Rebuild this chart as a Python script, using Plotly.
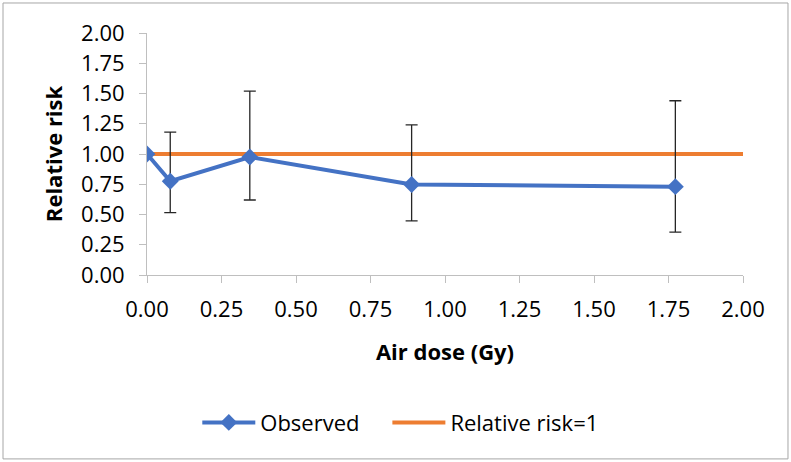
import plotly.graph_objects as go

dose = [0.0, 0.078, 0.345, 0.888, 1.773]
observed = [1.0, 0.775, 0.975, 0.748, 0.73]
ci_upper = [None, 1.18, 1.52, 1.24, 1.44]
ci_lower = [None, 0.515, 0.62, 0.447, 0.355]
ref_x = [0.0, 2.0]
ref_y = [1.0, 1.0]
x_ticks = [0, 0.25, 0.5, 0.75, 1.0, 1.25, 1.5, 1.75, 2.0]
y_ticks = [0, 0.25, 0.5, 0.75, 1.0, 1.25, 1.5, 1.75, 2.0]

err_plus = [0 if u is None else u - o for u, o in zip(ci_upper, observed)]
err_minus = [0 if l is None else o - l for l, o in zip(ci_lower, observed)]

FONT = "Open Sans"
FS = 22

fig = go.Figure()
fig.add_trace(go.Scatter(
    x=ref_x, y=ref_y, mode="lines", name="Relative risk=1",
    line=dict(color="#ED7D31", width=4), legendrank=2,
))
fig.add_trace(go.Scatter(
    x=dose, y=observed, mode="lines+markers", name="Observed\u00a0\u00a0\u00a0\u00a0",
    line=dict(color="#4472C4", width=4),
    marker=dict(symbol="diamond", size=13, color="#4472C4"),
    error_y=dict(type="data", symmetric=False, array=err_plus, arrayminus=err_minus,
                 color="#262626", thickness=1.3, width=6),
    legendrank=1,
))

axis_common = dict(
    showgrid=False, zeroline=False, showline=True, linecolor="#BFBFBF", linewidth=1,
    ticks="outside", tickcolor="#BFBFBF", ticklen=7,
    tickfont=dict(family=FONT, size=FS, color="#000000"),
    tickformat=".2f",
)

fig.update_xaxes(range=[0, 2], tickvals=x_ticks, ticklabelstandoff=8,
                 title=dict(text="<b>Air dose (Gy)</b>", font=dict(family=FONT, size=FS, color="#000"), standoff=22),
                 **axis_common)
fig.update_yaxes(range=[0, 2], tickvals=y_ticks, ticklabelstandoff=10,
                 title=dict(text="<b>Relative risk</b>", font=dict(family=FONT, size=FS, color="#000"), standoff=12),
                 **axis_common)

fig.update_layout(
    width=791, height=462,
    margin=dict(l=147, r=48, t=33, b=187),
    paper_bgcolor="white", plot_bgcolor="white",
    font=dict(family=FONT, size=FS, color="#000"),
    legend=dict(orientation="h", x=0.425, xanchor="center", y=-0.61, yanchor="middle",
                font=dict(family=FONT, size=FS), itemwidth=53, traceorder="normal"),
    shapes=[dict(type="rect", xref="paper", yref="paper",
                 x0=-0.2416, x1=1.0755, y0=-0.760, y1=1.124,
                 line=dict(color="#A6A6A6", width=1))],
)

fig.write_html("out.html", config={"displayModeBar": False},
               post_script="document.body.style.margin='0';")
